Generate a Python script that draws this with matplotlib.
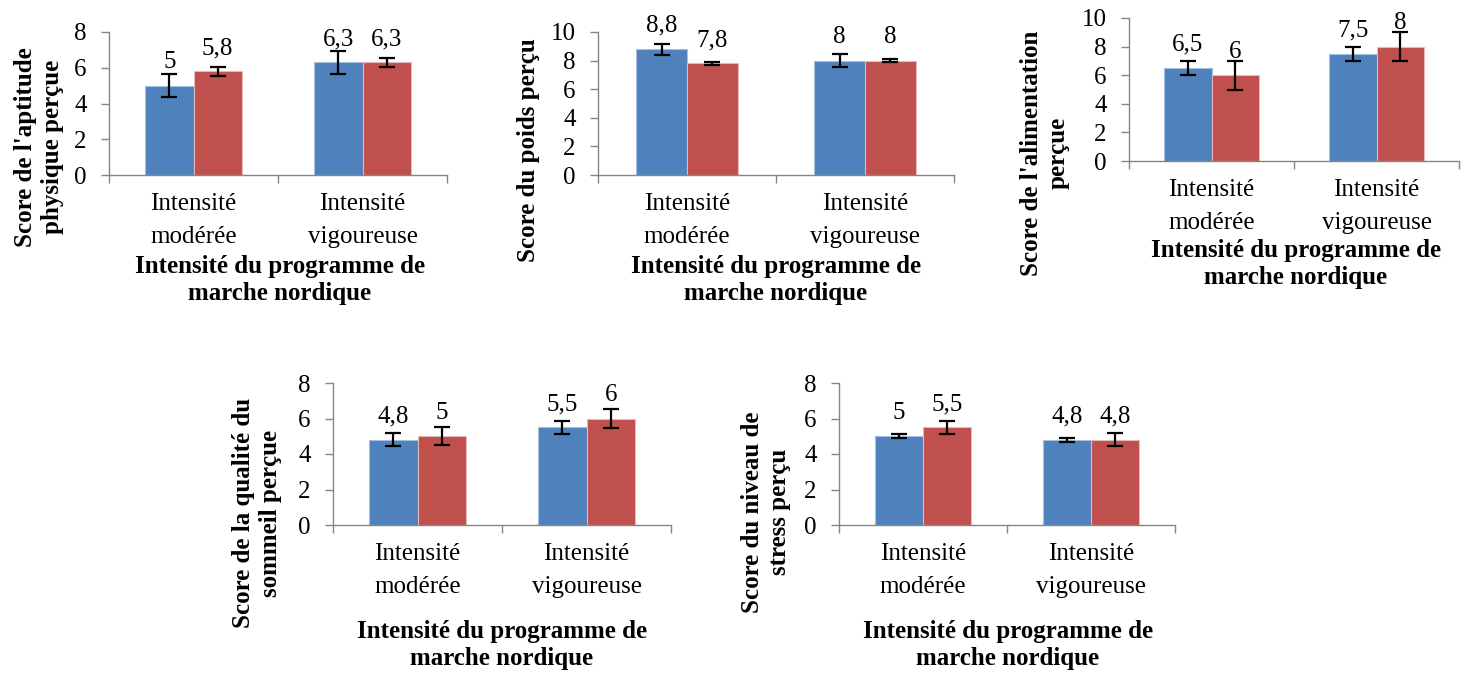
import matplotlib
matplotlib.use('Agg')
import matplotlib.pyplot as plt
import numpy as np

plt.rcParams['font.family'] = ['Liberation Serif', 'DejaVu Serif']

# ---------------- data ----------------
categories = ['Intensité\nmodérée', 'Intensité\nvigoureuse']
xlabel_text = 'Intensité du programme de\nmarche nordique'

aptitude_blue = [5.0, 6.3]
aptitude_red = [5.8, 6.3]
aptitude_err_blue = [0.65, 0.65]
aptitude_err_red = [0.25, 0.27]

poids_blue = [8.8, 8.0]
poids_red = [7.8, 8.0]
poids_err_blue = [0.38, 0.43]
poids_err_red = [0.12, 0.10]

alimentation_blue = [6.5, 7.5]
alimentation_red = [6.0, 8.0]
alimentation_err_blue = [0.5, 0.5]
alimentation_err_red = [1.0, 1.0]

sommeil_blue = [4.8, 5.5]
sommeil_red = [5.0, 6.0]
sommeil_err_blue = [0.36, 0.37]
sommeil_err_red = [0.52, 0.52]

stress_blue = [5.0, 4.8]
stress_red = [5.5, 4.8]
stress_err_blue = [0.11, 0.10]
stress_err_red = [0.35, 0.36]

ylabels = ["Score de l'aptitude\nphysique perçue",
           "Score du poids perçu",
           "Score de l'alimentation\nperçue",
           "Score de la qualité du\nsommeil perçue",
           "Score du niveau de\nstress perçu"]
ymax = [8, 10, 10, 8, 8]

# ---------------- layout (pixels) ----------------
W, H = 1469, 673
fig = plt.figure(figsize=(W / 100, H / 100), dpi=100)

# left, top, right, bottom of plot areas
boxes = [(109, 32, 447, 175),
         (598, 32, 954, 175),
         (1129, 18, 1459, 161),
         (333, 383, 671, 525),
         (839, 383, 1175, 525)]
ylabel_pos = [(39, 147), (529, 150), (1045, 153), (257, 513), (766, 512)]
xlabel_pos = [(280, 280), (776, 280), (1296, 264), (502, 645), (1008, 645)]

BLUE = '#4F81BD'
RED = '#C0504D'
GRID = '#868686'
FS = 18

series = [
    (aptitude_blue, aptitude_red, aptitude_err_blue, aptitude_err_red),
    (poids_blue, poids_red, poids_err_blue, poids_err_red),
    (alimentation_blue, alimentation_red, alimentation_err_blue, alimentation_err_red),
    (sommeil_blue, sommeil_red, sommeil_err_blue, sommeil_err_red),
    (stress_blue, stress_red, stress_err_blue, stress_err_red),
]


def fmt(v):
    return f"{v:g}".replace('.', ',')


bw = 0.286
x = np.arange(len(categories))

for i, (box, (vb, vr, eb, er)) in enumerate(zip(boxes, series)):
    l, t, r, b = box
    ax = fig.add_axes([l / W, 1 - b / H, (r - l) / W, (b - t) / H])
    ax.bar(x - bw / 2, vb, bw, color=BLUE, edgecolor='#A7BFDE', linewidth=0.8, zorder=2)
    ax.bar(x + bw / 2, vr, bw, color=RED, edgecolor='#E6B9B8', linewidth=0.8, zorder=2)
    ax.errorbar(x - bw / 2, vb, yerr=eb, fmt='none', ecolor='black',
                elinewidth=1.6, capsize=5.5, capthick=1.6, zorder=3)
    ax.errorbar(x + bw / 2, vr, yerr=er, fmt='none', ecolor='black',
                elinewidth=1.6, capsize=5.5, capthick=1.6, zorder=3)
    for xi, v in zip(x - bw / 2, vb):
        ax.annotate(fmt(v), (xi, v), xytext=(0, 12.5), textcoords='offset points',
                    ha='center', va='baseline', fontsize=FS)
    for xi, v in zip(x + bw / 2, vr):
        ax.annotate(fmt(v), (xi, v), xytext=(0, 12.5), textcoords='offset points',
                    ha='center', va='baseline', fontsize=FS)

    ax.set_xlim(-0.5, len(categories) - 0.5)
    ax.set_ylim(0, ymax[i])
    ax.set_yticks(np.arange(0, ymax[i] + 0.1, 2))
    ax.set_xticks(np.arange(-0.5, len(categories), 1.0))
    ax.set_xticklabels([])
    ax.set_xticks(x, minor=True)
    ax.set_xticklabels(categories, minor=True, fontsize=FS, linespacing=1.65)
    ax.tick_params(axis='x', which='minor', length=0, pad=13)
    ax.tick_params(axis='x', which='major', length=6, color=GRID, width=1, direction='out')
    ax.tick_params(axis='y', length=6, color=GRID, width=1, direction='out', labelsize=FS, pad=10)
    for s in ['top', 'right']:
        ax.spines[s].set_visible(False)
    for s in ['left', 'bottom']:
        ax.spines[s].set_color(GRID)
        ax.spines[s].set_linewidth(1)
    ax.patch.set_alpha(0)

    yx, yy = ylabel_pos[i]
    fig.text(yx / W, 1 - yy / H, ylabels[i], rotation=90, ha='center', va='center',
             multialignment='center', fontsize=FS, fontweight='bold', linespacing=1.2)
    xx, xy = xlabel_pos[i]
    fig.text(xx / W, 1 - xy / H, xlabel_text, ha='center', va='center',
             multialignment='center', fontsize=FS, fontweight='bold', linespacing=1.2)

fig.savefig('out.png', dpi=100, facecolor='white')
